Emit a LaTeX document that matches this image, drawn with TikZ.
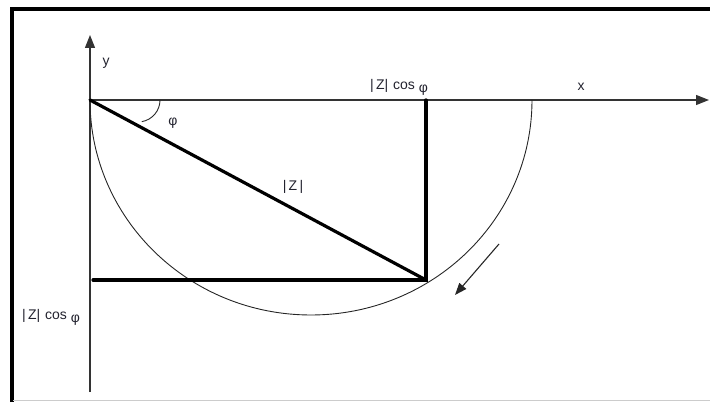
\documentclass[tikz,border=0pt]{standalone}
\usepackage{fontspec}
\setmainfont{Liberation Sans}
\usepackage{tikz}
\usetikzlibrary{positioning,arrows.meta}
\definecolor{framegray}{HTML}{CCCCCC}
\definecolor{axisgray}{HTML}{333333}
\definecolor{labelink}{HTML}{22222E}

\begin{document}
\begin{tikzpicture}[x=1pt, y=1pt,
    axisLine/.style={line width=1.3pt, draw=axisgray, -{Triangle[length=13pt, width=10pt]}},
    thickLine/.style={line width=3.2pt, draw=black, line cap=round},
    arcLine/.style={line width=0.9pt, draw=black!85},
    frameLine/.style={line width=4pt, draw=black},
    labelText/.style={font=\fontsize{14}{16}\selectfont, text=labelink, inner sep=1pt},
    motionArrow/.style={line width=1.1pt, draw=black!85, -{Triangle[length=12pt, width=9pt]}}
]
    \useasboundingbox (0,0) rectangle (710,402);

    % Cornice
    \draw[frameLine] (11.5,0) -- (11.5,392.5) -- (710,392.5);
    \draw[line width=1pt, draw=framegray] (13,2) -- (710,2);

    % Punti geometrici
    \coordinate (O) at (90,302);
    \coordinate (yTop) at (90,367);
    \coordinate (yBot) at (90,10);
    \coordinate (xEnd) at (709,302);
    \coordinate (P) at (426,122);
    \coordinate (Px) at (426,302);
    \coordinate (Py) at (93,122);
    \coordinate (phiS) at (160,302);

    % Assi
    \draw[axisLine] (yBot) -- (yTop);
    \draw[axisLine] (O) -- (xEnd);

    % Semicerchio
    \draw[arcLine] (O) arc[start angle=180, end angle=360, x radius=221, y radius=215];

    % Vettore e proiezioni
    \draw[thickLine] (O) -- (P);
    \draw[thickLine] (Px) -- (P) -- (Py);

    % Angolo
    \draw[arcLine] (phiS) arc[start angle=0, end angle=-80, radius=22];

    % Freccia di rotazione
    \coordinate (rotS) at (499,158);
    \coordinate (rotE) at (455,107);
    \draw[motionArrow] (rotS) -- (rotE);

    % Etichette
    \node[labelText] (yLabel) at (106,339) {y};
    \node[labelText] (xLabel) at (581,315) {x};
    \node[labelText] (phiLabel) at (173,279) {φ};
    \node[labelText] (zLabel) at (293,215) {|\,Z\,|};
    \node[labelText] (cosTop) at (399,315) {|\,Z|\hspace{1pt} cos \raisebox{-3pt}{φ}};
    \node[labelText] (cosLeft) at (51,85) {|\,Z|\hspace{1pt} cos \raisebox{-3pt}{φ}};
\end{tikzpicture}
\end{document}
